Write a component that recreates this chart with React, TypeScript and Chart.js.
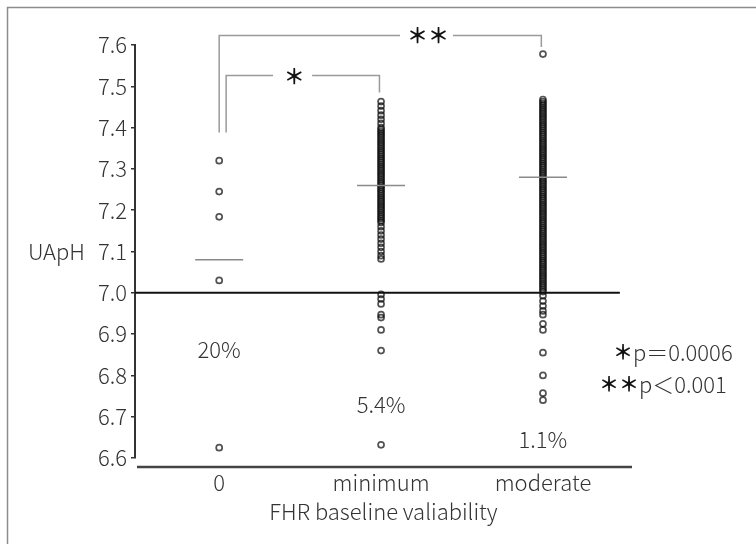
import React, { useEffect, useRef } from 'react';
import { Chart, registerables } from 'chart.js';

Chart.register(...registerables);

// ---------- data ----------
const categories = ['0', 'minimum', 'moderate'];
const yTickValues = [6.6, 6.7, 6.8, 6.9, 7.0, 7.1, 7.2, 7.3, 7.4, 7.5, 7.6];
const yLabel = 'UApH';
const xTitle = 'FHR baseline valiability';

const phZero = [7.32, 7.245, 7.184, 7.03, 6.625];

const phMinimum = [
  7.463, 7.452, 7.441, 7.43, 7.42, 7.41, 7.4,
  7.395, 7.39, 7.385, 7.38, 7.375, 7.37, 7.365, 7.36, 7.355, 7.35,
  7.345, 7.34, 7.335, 7.33, 7.325, 7.32, 7.315, 7.31, 7.305, 7.3,
  7.295, 7.29, 7.285, 7.28, 7.275, 7.27, 7.265, 7.26, 7.255, 7.25,
  7.245, 7.24, 7.235, 7.23, 7.225, 7.22, 7.215, 7.21, 7.205, 7.2,
  7.195, 7.19, 7.185, 7.18, 7.175, 7.17,
  7.16, 7.15, 7.14, 7.13, 7.12, 7.11, 7.1, 7.09, 7.082,
  6.996, 6.985, 6.973, 6.947, 6.94, 6.91, 6.86, 6.632,
];

const phModerate = [
  7.578,
  7.468, 7.463, 7.458, 7.453, 7.448, 7.443, 7.438, 7.433, 7.428, 7.423,
  7.418, 7.413, 7.408, 7.403, 7.398, 7.393, 7.388, 7.383, 7.378, 7.373,
  7.368, 7.363, 7.358, 7.353, 7.348, 7.343, 7.338, 7.333, 7.328, 7.323,
  7.318, 7.313, 7.308, 7.303, 7.298, 7.293, 7.288, 7.283, 7.278, 7.273,
  7.268, 7.263, 7.258, 7.253, 7.248, 7.243, 7.238, 7.233, 7.228, 7.223,
  7.218, 7.213, 7.208, 7.203, 7.198, 7.193, 7.188, 7.183, 7.178, 7.173,
  7.168, 7.163, 7.158, 7.153, 7.148, 7.143, 7.138, 7.133, 7.128, 7.123,
  7.118, 7.113, 7.108, 7.103, 7.098, 7.093, 7.088, 7.083, 7.078, 7.073,
  7.068, 7.063, 7.058, 7.053, 7.048, 7.043, 7.038, 7.033, 7.028, 7.023,
  7.018, 7.013, 7.008, 7.003,
  6.993, 6.98, 6.968, 6.956, 6.947, 6.925, 6.91, 6.855, 6.8, 6.757, 6.74,
];

const means = [7.08, 7.26, 7.28];
const threshold = 7.0;
const belowPercent = ['20%', '5.4%', '1.1%'];
const belowPercentY = [6.862, 6.728, 6.644];

// significance brackets (x in category units, y in pH)
const bracketInnerX = [0.043, 0.043, 0.333, 0.333, 0.574, 0.99, 0.99];
const bracketInnerY = [7.388, 7.526, 7.526, null, 7.526, 7.526, 7.485];
const bracketOuterX = [0, 0, 1.117, 1.117, 1.444, 1.99, 1.99];
const bracketOuterY = [7.388, 7.623, 7.623, null, 7.623, 7.623, 7.595];
const starLabels = ['＊', '＊＊'];
const starX = [0.463, 1.29];
const starY = [7.526, 7.623];

const pValueLabels = ['＊p＝0.0006', '＊＊p＜0.001'];
const pValueY = [6.855, 6.777];

// ---------- styling ----------
const FONT = '"Noto Sans CJK JP", "Noto Sans", sans-serif';
const TEXT = '#333333';
const X_MIN = -0.52;
const X_MAX = 2.55;

const toPoints = (xs: number[], ys: (number | null)[]) => xs.map((x, i) => ({ x, y: ys[i] }));
const column = (idx: number, vals: number[]) => vals.map((y) => ({ x: idx, y }));

// draws text where '＊' glyphs are bold black and the rest light
function drawMixed(ctx: CanvasRenderingContext2D, text: string, x: number, y: number) {
  let cx = x;
  for (const ch of Array.from(text)) {
    if (ch === '＊') {
      ctx.font = `700 20px ${FONT}`;
      ctx.fillStyle = '#111111';
    } else {
      ctx.font = `300 22px ${FONT}`;
      ctx.fillStyle = TEXT;
    }
    ctx.fillText(ch, cx, y);
    cx += ctx.measureText(ch).width;
  }
}

const annotationPlugin = {
  id: 'annotations',
  beforeDraw(chart: any) {
    const { ctx, width, height } = chart;
    ctx.save();
    ctx.fillStyle = '#ffffff';
    ctx.fillRect(0, 0, width, height);
    ctx.strokeStyle = '#8c8c8c';
    ctx.lineWidth = 1.5;
    ctx.beginPath();
    ctx.moveTo(7.5, height);
    ctx.lineTo(7.5, 7.5);
    ctx.lineTo(width, 7.5);
    ctx.stroke();
    ctx.restore();
  },
  afterDraw(chart: any) {
    const { ctx, chartArea } = chart;
    const xs = chart.scales.x;
    const ys = chart.scales.y;
    ctx.save();
    // x axis base line
    ctx.strokeStyle = '#444444';
    ctx.lineWidth = 2.5;
    ctx.beginPath();
    ctx.moveTo(chartArea.left + 2, chartArea.bottom + 9);
    ctx.lineTo(chartArea.right, chartArea.bottom + 9);
    ctx.stroke();

    ctx.fillStyle = TEXT;
    ctx.textBaseline = 'middle';
    ctx.font = `300 22px ${FONT}`;
    // y label
    ctx.textAlign = 'left';
    ctx.fillText(yLabel, 28, ys.getPixelForValue(7.1));
    // percentages
    ctx.textAlign = 'center';
    belowPercent.forEach((t, i) => {
      ctx.fillText(t, xs.getPixelForValue(i), ys.getPixelForValue(belowPercentY[i]));
    });
    // p-values
    ctx.textAlign = 'left';
    drawMixed(ctx, pValueLabels[0], chartArea.right - 19, ys.getPixelForValue(pValueY[0]));
    drawMixed(ctx, pValueLabels[1], chartArea.right - 33, ys.getPixelForValue(pValueY[1]));
    // stars on brackets
    ctx.fillStyle = '#111111';
    ctx.font = `700 21px ${FONT}`;
    ctx.textAlign = 'center';
    starLabels.forEach((s, i) => {
      ctx.fillText(s, xs.getPixelForValue(starX[i]), ys.getPixelForValue(starY[i]));
    });
    ctx.restore();
  },
};

export default function App() {
  const ref = useRef<HTMLCanvasElement | null>(null);

  useEffect(() => {
    if (!ref.current) return;
    const pointStyle = {
      type: 'scatter' as const,
      pointStyle: 'circle',
      pointRadius: 3,
      pointBorderWidth: 1.7,
      pointBorderColor: 'rgba(15,15,15,0.72)',
      pointBackgroundColor: 'rgba(0,0,0,0)',
      showLine: false,
    };
    const chart = new Chart(ref.current, {
      type: 'scatter',
      data: {
        datasets: [
          {
            label: 'mean',
            data: means.map((y, i) => ({ x: i, y })),
            pointStyle: 'line',
            pointRadius: 24,
            pointBorderWidth: 1.5,
            pointBorderColor: '#8a8a8a',
            showLine: false,
          } as any,
          { label: categories[0], data: column(0, phZero), ...pointStyle } as any,
          { label: categories[1], data: column(1, phMinimum), ...pointStyle } as any,
          { label: categories[2], data: column(2, phModerate), ...pointStyle } as any,
          {
            label: 'threshold',
            data: [{ x: X_MIN, y: threshold }, { x: 2.475, y: threshold }],
            showLine: true,
            borderColor: '#111111',
            borderWidth: 2,
            pointRadius: 0,
          } as any,
          {
            label: 'bracketInner',
            data: toPoints(bracketInnerX, bracketInnerY),
            showLine: true,
            spanGaps: false,
            borderColor: '#9a9a9a',
            borderWidth: 1.5,
            pointRadius: 0,
            clip: false,
          } as any,
          {
            label: 'bracketOuter',
            data: toPoints(bracketOuterX, bracketOuterY),
            showLine: true,
            spanGaps: false,
            borderColor: '#9a9a9a',
            borderWidth: 1.5,
            pointRadius: 0,
            clip: false,
          } as any,
        ],
      },
      options: {
        responsive: false,
        animation: false,
        layout: { padding: { top: 45, right: 124, bottom: 0, left: 0 } },
        plugins: { legend: { display: false }, tooltip: { enabled: false } },
        scales: {
          x: {
            type: 'linear',
            min: X_MIN,
            max: X_MAX,
            afterBuildTicks: (s: any) => {
              s.ticks = categories.map((_, i) => ({ value: i }));
            },
            afterFit: (s: any) => {
              s.height = 86;
            },
            grid: { display: false },
            border: { display: false },
            ticks: {
              autoSkip: false,
              maxRotation: 0,
              padding: 3,
              color: TEXT,
              font: { family: FONT, size: 22, weight: '300' as any },
              callback: (v: any) => categories[Math.round(Number(v))] ?? '',
            },
            title: {
              display: true,
              text: xTitle,
              color: TEXT,
              font: { family: FONT, size: 22, weight: '300' as any },
              padding: { top: 0, bottom: 19 },
            },
          },
          y: {
            type: 'linear',
            min: 6.6,
            max: 7.6,
            afterBuildTicks: (s: any) => {
              s.ticks = yTickValues.map((value) => ({ value }));
            },
            afterFit: (s: any) => {
              s.width = 135;
            },
            border: { display: true, color: '#333333', width: 2 },
            grid: { drawOnChartArea: false, drawTicks: true, tickLength: 4, color: '#333333', lineWidth: 1.5 },
            ticks: {
              padding: 4,
              color: TEXT,
              font: { family: FONT, size: 22, weight: '300' as any },
              callback: (v: any) => Number(v).toFixed(1),
            },
          },
        },
      },
      plugins: [annotationPlugin],
    });
    return () => chart.destroy();
  }, []);

  return (
    <div style={{ position: 'absolute', left: 0, top: 0, width: 756, height: 544, background: '#fff' }}>
      <canvas ref={ref} width={756} height={544} style={{ display: 'block' }} />
    </div>
  );
}
